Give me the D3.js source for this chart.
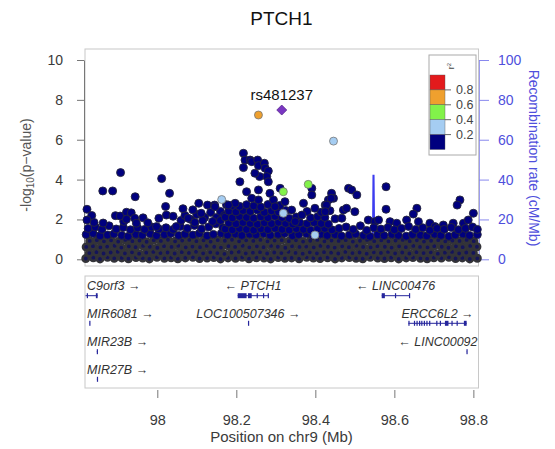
<!DOCTYPE html>
<html>
<head>
<meta charset="utf-8">
<script src="https://cdn.jsdelivr.net/npm/d3@7"></script>
<style>
  body { margin: 0; background: #fff; }
  svg { font-family: "Liberation Sans", Arial, sans-serif; }
</style>
</head>
<body>
<svg width="555" height="449"></svg>
<script>
// ---- data ----
let regionMb = [97.817, 98.813];
let pTicks = [0, 2, 4, 6, 8, 10];
let recombTicks = [0, 20, 40, 60, 80, 100];
let posTicks = [98, 98.2, 98.4, 98.6, 98.8];

// lead snp
let leadName = "rs481237";
let leadPos = 98.315;
let leadLogP = 7.49;

// snps with some ld to the lead (r2 given)
let ldPos  = [98.256, 98.446, 98.163, 98.319, 98.399, 98.319, 98.382];
let ldLogP = [7.24,   5.93,   3.0,    2.31,   1.22,   3.39,   3.76];
let ldR2   = [0.7,    0.3,    0.3,    0.3,    0.3,    0.5,    0.5];

// the dense low band of snps (r2 < 0.2)
let floorSnps = [
  [97.819,0.04],[97.838,0.08],[97.855,0.02],[97.874,0.1],[97.891,0.05],[97.91,0.07],[97.927,0.03],[97.946,0.09],[97.963,0.06],[97.98,0.02],[97.999,0.1],[98.018,0.05],[98.035,0.08],[98.052,0.03],[98.071,0.07],[98.09,0.1],[98.107,0.04],[98.126,0.06],[98.143,0.09],[98.16,0.02],[98.179,0.07],[98.198,0.05],[98.215,0.1],[98.232,0.03],[98.251,0.08],[98.27,0.06],[98.287,0.02],[98.306,0.09],[98.323,0.05],[98.34,0.07],[98.359,0.03],[98.378,0.1],[98.395,0.06],[98.412,0.04],[98.431,0.08],[98.45,0.02],[98.467,0.07],[98.486,0.09],[98.503,0.05],[98.52,0.03],[98.539,0.1],[98.558,0.06],[98.575,0.04],[98.592,0.08],[98.611,0.02],[98.63,0.07],[98.647,0.09],[98.666,0.05],[98.683,0.03],[98.7,0.08],[98.719,0.06],[98.738,0.1],[98.755,0.04],[98.772,0.07],[98.791,0.02],[98.81,0.05],
  [97.828,0.31],[97.846,0.36],[97.864,0.29],[97.882,0.34],[97.9,0.38],[97.918,0.3],[97.936,0.35],[97.954,0.28],[97.972,0.33],[97.99,0.37],[98.008,0.31],[98.026,0.34],[98.044,0.29],[98.062,0.36],[98.08,0.32],[98.098,0.38],[98.116,0.3],[98.134,0.35],[98.152,0.31],[98.17,0.27],[98.188,0.34],[98.206,0.37],[98.224,0.3],[98.242,0.33],[98.26,0.36],[98.278,0.29],[98.296,0.34],[98.314,0.31],[98.332,0.38],[98.35,0.32],[98.368,0.28],[98.386,0.35],[98.404,0.3],[98.422,0.36],[98.44,0.33],[98.458,0.29],[98.476,0.37],[98.494,0.31],[98.512,0.34],[98.53,0.28],[98.548,0.35],[98.566,0.32],[98.584,0.37],[98.602,0.3],[98.62,0.34],[98.638,0.29],[98.656,0.36],[98.674,0.31],[98.692,0.35],[98.71,0.28],[98.728,0.33],[98.746,0.37],[98.764,0.3],[98.782,0.34],[98.8,0.32],
  [97.82,0.62],[97.837,0.66],[97.856,0.6],[97.873,0.64],[97.892,0.68],[97.909,0.59],[97.928,0.65],[97.945,0.61],[97.964,0.67],[97.981,0.63],[98.0,0.58],[98.017,0.66],[98.036,0.62],[98.053,0.68],[98.072,0.6],[98.089,0.64],[98.108,0.61],[98.125,0.67],[98.144,0.63],[98.161,0.59],[98.18,0.66],[98.197,0.62],[98.216,0.68],[98.233,0.6],[98.252,0.65],[98.269,0.61],[98.288,0.67],[98.305,0.63],[98.324,0.58],[98.341,0.66],[98.36,0.62],[98.377,0.64],[98.396,0.6],[98.413,0.67],[98.432,0.63],[98.449,0.59],[98.468,0.65],[98.485,0.61],[98.504,0.68],[98.521,0.62],[98.54,0.6],[98.557,0.66],[98.576,0.63],[98.593,0.59],[98.612,0.65],[98.629,0.61],[98.648,0.67],[98.665,0.62],[98.684,0.6],[98.701,0.66],[98.72,0.63],[98.737,0.58],[98.756,0.65],[98.773,0.61],[98.792,0.67],[98.809,0.63],
  [97.829,0.92],[97.847,0.96],[97.865,0.9],[97.883,0.95],[97.901,0.89],[97.919,0.97],[97.937,0.91],[97.955,0.94],[97.973,0.88],[97.991,0.96],[98.009,0.92],[98.027,0.98],[98.045,0.9],[98.063,0.94],[98.081,0.97],[98.099,0.91],[98.117,0.95],[98.135,0.89],[98.153,0.96],[98.171,0.93],[98.189,0.98],[98.207,0.9],[98.225,0.95],[98.243,0.92],[98.261,0.97],[98.279,0.9],[98.297,0.94],[98.315,0.96],[98.333,0.91],[98.351,0.95],[98.369,0.89],[98.387,0.93],[98.405,0.97],[98.423,0.9],[98.441,0.94],[98.459,0.92],[98.477,0.96],[98.495,0.89],[98.513,0.93],[98.531,0.97],[98.549,0.91],[98.567,0.95],[98.585,0.9],[98.603,0.94],[98.621,0.97],[98.639,0.91],[98.657,0.95],[98.675,0.89],[98.693,0.93],[98.711,0.96],[98.729,0.9],[98.747,0.94],[98.765,0.92],[98.783,0.97],[98.801,0.91],
  [97.82,1.24],[97.838,1.3],[97.855,1.18],[97.874,1.22],[97.89,1.27],[97.91,1.2],[97.926,1.15],[97.946,1.25],[97.962,1.21],[97.982,1.28],[97.998,1.19],[98.018,1.24],[98.034,1.3],[98.054,1.2],[98.07,1.26],[98.09,1.22],[98.106,1.29],[98.126,1.18],[98.142,1.25],[98.162,1.3],[98.178,1.22],[98.198,1.27],[98.214,1.2],[98.234,1.26],[98.25,1.23],[98.27,1.29],[98.286,1.21],[98.306,1.25],[98.322,1.3],[98.342,1.19],[98.358,1.24],[98.378,1.28],[98.394,1.21],[98.414,1.26],[98.43,1.2],[98.45,1.24],[98.466,1.17],[98.486,1.22],[98.502,1.27],[98.522,1.2],[98.538,1.15],[98.558,1.23],[98.574,1.19],[98.594,1.25],[98.61,1.2],[98.63,1.16],[98.646,1.24],[98.666,1.21],[98.682,1.18],[98.702,1.26],[98.718,1.2],[98.738,1.15],[98.754,1.22],[98.774,1.27],[98.79,1.2],[98.81,1.24]
];

// scattered snps above the band (r2 < 0.2)
let upperSnps = [
  [97.825,1.55],[97.843,1.62],[97.86,1.5],[97.878,1.68],[97.896,1.52],[97.914,1.6],[97.932,1.48],[97.95,1.58],[97.968,1.5],[97.986,1.62],[98.004,1.52],[98.022,1.58],[98.04,1.5],[98.058,1.65],[98.076,1.55],[98.094,1.7],[98.112,1.52],[98.13,1.62],[98.148,1.78],[98.166,1.58],
  [97.84,1.85],[97.915,1.9],[98.06,1.95],[98.07,2.2],[98.085,2.0],[98.1,2.25],[98.12,2.1],[98.135,2.35],[98.15,2.1],[98.16,2.4],[98.17,2.2],[98.095,1.85],[98.115,1.95],[98.14,1.9],[98.16,1.95],
  [97.907,4.35],[97.862,3.43],[97.887,3.43],[97.944,3.14],[98.011,4.05],[98.031,3.31],[98.021,2.65],[97.822,2.51],[97.834,2.2],[97.822,1.97],[97.863,1.82],[97.894,2.19],[97.906,2.17],[97.922,2.36],[97.934,2.33],[97.943,2.06],[97.964,2.08],[97.922,2.01],[97.947,1.81],[97.976,1.83],[98.004,2.06],[98.023,2.22],[98.04,2.16],[98.065,2.54],[98.09,2.48],[98.105,2.81],[98.127,2.72],[98.145,2.72],[98.175,2.74],[98.078,2.06],[98.111,2.31],[97.998,1.64],[98.048,1.64],
  [98.172,1.52],[98.19,1.48],[98.208,1.55],[98.226,1.5],[98.244,1.46],[98.262,1.53],[98.28,1.49],[98.298,1.56],[98.316,1.5],[98.334,1.47],[98.352,1.54],[98.37,1.5],[98.388,1.46],[98.406,1.52],[98.424,1.55],[98.442,1.48],
  [98.181,1.82],[98.199,1.78],[98.217,1.85],[98.235,1.8],[98.253,1.76],[98.271,1.84],[98.289,1.79],[98.307,1.86],[98.325,1.8],[98.343,1.77],[98.361,1.83],[98.379,1.79],[98.397,1.85],[98.415,1.8],[98.433,1.76],
  [98.172,2.12],[98.19,2.08],[98.208,2.15],[98.226,2.1],[98.244,2.06],[98.262,2.13],[98.28,2.09],[98.298,2.16],[98.316,2.1],[98.334,2.05],[98.352,2.12],[98.388,2.08],[98.406,2.14],[98.424,2.1],[98.45,2.03],
  [98.181,2.42],[98.199,2.38],[98.217,2.45],[98.235,2.4],[98.253,2.47],[98.271,2.36],[98.289,2.43],[98.307,2.38],[98.325,2.45],[98.379,2.4],[98.415,2.36],[98.437,2.44],
  [98.19,2.7],[98.208,2.66],[98.226,2.74],[98.244,2.68],[98.262,2.62],[98.28,2.75],[98.31,2.7],
  [98.218,5.32],[98.222,4.98],[98.235,4.98],[98.239,4.9],[98.254,4.98],[98.256,4.7],[98.271,4.82],[98.273,4.57],[98.281,4.43],[98.277,4.15],[98.281,3.89],[98.218,4.6],[98.209,3.89],[98.226,3.39],[98.256,3.48],[98.285,3.31],[98.311,3.56],[98.391,3.56],[98.391,3.23],[98.37,2.81],[98.399,2.56],[98.441,3.31],[98.433,2.98],[98.239,3.06],[98.256,2.98],[98.197,2.81],[98.18,2.72],[98.146,2.64],[98.294,2.98],[98.298,2.64],[98.323,2.89],[98.34,2.47],[98.349,1.89],[98.366,2.22],[98.425,2.72],[98.446,3.06],[98.259,4.15],[98.247,4.32],
  [98.484,3.56],[98.492,3.48],[98.505,3.23],[98.471,2.47],[98.479,2.56],[98.5,2.39],[98.467,2.06],[98.579,3.64],[98.579,2.51],[98.534,1.97],[98.551,1.89],[98.56,1.97],[98.589,1.89],[98.606,1.81],[98.631,1.97],[98.657,2.56],[98.648,2.27],[98.661,1.89],[98.69,1.81],[98.703,1.64],[98.724,1.72],[98.749,1.81],[98.766,2.98],[98.759,2.72],[98.775,1.81],[98.8,2.31],[98.787,1.97],[98.44,3.06],[98.428,2.72],[98.425,2.39],
  [98.46,1.55],[98.478,1.62],[98.496,1.5],[98.514,1.68],[98.53,1.45],[98.548,1.58],[98.566,1.52],[98.584,1.6],[98.6,1.48],[98.618,1.55],[98.636,1.65],[98.654,1.5],[98.672,1.58],[98.69,1.45],[98.708,1.55],[98.726,1.5],[98.744,1.6],[98.762,1.48],[98.78,1.55],[98.798,1.62],[98.81,1.5]
];

// recombination rate (cM/Mb)
let recombPos  = [97.817, 97.86, 97.9, 97.95, 98.0, 98.05, 98.1, 98.15, 98.2, 98.25, 98.3, 98.35, 98.4, 98.45, 98.5, 98.545, 98.5465, 98.548, 98.55, 98.6, 98.65, 98.7, 98.75, 98.813];
let recombRate = [2, 1.5, 3, 1, 2, 0.5, 1, 2, 0.5, 1, 0.8, 2, 1.5, 3, 1, 2, 42, 42, 3, 1, 2, 1, 3, 1];

// genes
let geneNames  = ["C9orf3", "MIR6081", "MIR23B", "MIR27B", "PTCH1", "LOC100507346", "LINC00476", "ERCC6L2", "LINC00092"];
let geneStart  = [97.489, 97.8278, 97.8468, 97.8471, 98.2035, 98.2295, 98.568, 98.6355, 98.7825];
let geneEnd    = [97.849, 97.8283, 97.8473, 97.8476, 98.281, 98.2315, 98.638, 98.783, 98.7831];
let geneStrand = ["+", "+", "+", "+", "-", "+", "-", "+", "-"];
let geneRow    = [0, 1, 2, 3, 0, 1, 0, 1, 2];
let geneExons  = [
  [[97.8215, 97.8235], [97.8445, 97.849]],
  [[97.8278, 97.8283]],
  [[97.8468, 97.8473]],
  [[97.8471, 97.8476]],
  [[98.2035, 98.226], [98.2295, 98.239], [98.2515, 98.253], [98.2675, 98.2685], [98.2795, 98.281]],
  [[98.2295, 98.2315]],
  [[98.568, 98.576], [98.6015, 98.6025], [98.637, 98.638]],
  [[98.6355, 98.6365], [98.6495, 98.6505], [98.656, 98.6575], [98.6625, 98.664], [98.668, 98.6695], [98.6745, 98.6755], [98.681, 98.6825], [98.688, 98.6895], [98.706, 98.7075], [98.715, 98.7165], [98.728, 98.737], [98.7445, 98.746], [98.7575, 98.759], [98.776, 98.783]],
  [[98.7825, 98.7831]]
];

// r2 legend
let r2Breaks = [0.8, 0.6, 0.4, 0.2];
let r2Colors = ["#e31a1c", "#efa02e", "#82f24a", "#a5cdf2", "#00007f"];

// ---- drawing ----
let svg = d3.select("svg");
let textCol = "#3a3a3a";
let recombCol = "#4f4fdc";

let x = d3.scaleLinear().domain(regionMb).range([85, 478.5]);
let y = d3.scaleLinear().domain([0, 10]).range([259.3, 60]);
let yRecomb = d3.scaleLinear().domain([0, 100]).range([259.3, 60]);

let r2Color = function(r) {
  if (r >= 0.8) return r2Colors[0];
  if (r >= 0.6) return r2Colors[1];
  if (r >= 0.4) return r2Colors[2];
  if (r >= 0.2) return r2Colors[3];
  return r2Colors[4];
};

// title
svg.append("text")
  .attr("x", 281.5).attr("y", 25)
  .attr("text-anchor", "middle")
  .style("font-size", "19px").style("fill", "#111")
  .text("PTCH1");

// plot boxes
svg.append("rect").attr("x", 85).attr("y", 49).attr("width", 393.5).attr("height", 217)
  .style("fill", "none").style("stroke", "#c8c8c8");
svg.append("rect").attr("x", 85).attr("y", 276).attr("width", 393.5).attr("height", 112)
  .style("fill", "none").style("stroke", "#c8c8c8");

// left axis
let yAxis = d3.axisLeft(y).tickValues(pTicks).tickSize(7).tickSizeOuter(0).tickPadding(14);
let yg = svg.append("g").attr("transform", "translate(84,0)").call(yAxis);
yg.select(".domain").style("stroke", "#777");
yg.selectAll(".tick line").style("stroke", "#777");
yg.selectAll("text").style("font-size", "14px").style("fill", textCol).style("font-family", "inherit");

svg.append("text")
  .attr("transform", "translate(31,165) rotate(-90)")
  .attr("text-anchor", "middle")
  .style("font-size", "14px").style("fill", "#555")
  .call(function(t) {
    t.append("tspan").text("-log");
    t.append("tspan").attr("dy", 3).style("font-size", "10px").text("10");
    t.append("tspan").attr("dy", -3).text("(p\u2212value)");
  });

// right axis
let rAxis = d3.axisRight(yRecomb).tickValues(recombTicks).tickSize(10).tickSizeOuter(0).tickPadding(9);
let rg = svg.append("g").attr("transform", "translate(479,0)").call(rAxis);
rg.select(".domain").style("stroke", "#9c9cf0");
rg.selectAll(".tick line").style("stroke", "#8888ee");
rg.selectAll("text").style("font-size", "14px").style("fill", recombCol).style("font-family", "inherit");

svg.append("text")
  .attr("transform", "translate(529,158) rotate(90)")
  .attr("text-anchor", "middle")
  .style("font-size", "14px").style("fill", recombCol)
  .text("Recombination rate (cM/Mb)");

// recombination line (behind the points)
let recombLine = d3.line()
  .x(function(d, i) { return x(recombPos[i]); })
  .y(function(d) { return yRecomb(d); });
svg.append("path")
  .datum(recombRate)
  .attr("d", recombLine)
  .style("fill", "none").style("stroke", "#3c3cf0").style("stroke-width", 1.5);

// points
let plot = svg.append("g").attr("id", "plot");

// the packed band reads as dark grey in the reference (outlines pile up)
plot.selectAll("circle.floor")
  .data(floorSnps)
  .enter().append("circle")
  .attr("class", "floor")
  .attr("cx", function(d) { return x(d[0]); })
  .attr("cy", function(d) { return y(d[1]); })
  .attr("r", function(d) { return d[1] < 1.1 ? 3.2 : 4; })
  .style("fill", function(d) { return d[1] < 1.1 ? "#14145a" : r2Colors[4]; })
  .style("stroke", function(d) { return d[1] < 1.1 ? "#333338" : "#26263c"; })
  .style("stroke-width", function(d) { return d[1] < 1.1 ? 2.6 : 0.9; });

plot.selectAll("circle.upper")
  .data(upperSnps)
  .enter().append("circle")
  .attr("class", "upper")
  .attr("cx", function(d) { return x(d[0]); })
  .attr("cy", function(d) { return y(d[1]); })
  .attr("r", 4)
  .style("fill", r2Colors[4])
  .style("stroke", "#26263c")
  .style("stroke-width", 0.9);

// ld snps, lowest r2 first so the strong ones sit on top
let ldIdx = d3.range(ldPos.length).sort(function(a, b) { return ldR2[a] - ldR2[b]; });
plot.selectAll("circle.ld")
  .data(ldIdx)
  .enter().append("circle")
  .attr("class", "ld")
  .attr("cx", function(i) { return x(ldPos[i]); })
  .attr("cy", function(i) { return y(ldLogP[i]); })
  .attr("r", 4)
  .style("fill", function(i) { return r2Color(ldR2[i]); })
  .style("stroke", "#777")
  .style("stroke-width", 0.8);

// lead snp: purple diamond
let lx = x(leadPos), ly = y(leadLogP);
plot.append("path")
  .attr("d", "M" + lx + "," + (ly - 5) + "L" + (lx + 5) + "," + ly + "L" + lx + "," + (ly + 5) + "L" + (lx - 5) + "," + ly + "Z")
  .style("fill", "#7a36c2")
  .style("stroke", "#5a2a90")
  .style("stroke-width", 0.8);
svg.append("text")
  .attr("x", lx).attr("y", ly - 10)
  .attr("text-anchor", "middle")
  .style("font-size", "15px").style("fill", "#111")
  .text(leadName);

// r2 legend
let legend = svg.append("g");
legend.append("rect").attr("x", 429).attr("y", 55).attr("width", 47).attr("height", 100)
  .style("fill", "#fff").style("stroke", "#aaa");
let legY = d3.scaleLinear().domain([1, 0]).range([75, 149.5]);
let r2Tops = [1].concat(r2Breaks);
let r2Bots = r2Breaks.concat([0]);
legend.selectAll("rect.key")
  .data(r2Colors)
  .enter().append("rect")
  .attr("class", "key")
  .attr("x", 430)
  .attr("width", 15)
  .attr("y", function(d, i) { return legY(r2Tops[i]); })
  .attr("height", function(d, i) { return legY(r2Bots[i]) - legY(r2Tops[i]); })
  .style("fill", function(d) { return d; })
  .style("stroke", "#555").style("stroke-width", 0.4);
legend.selectAll("line.tick")
  .data(r2Breaks)
  .enter().append("line")
  .attr("x1", 445).attr("x2", 451)
  .attr("y1", function(d) { return legY(d); })
  .attr("y2", function(d) { return legY(d); })
  .style("stroke", "#666");
legend.selectAll("text.lab")
  .data(r2Breaks)
  .enter().append("text")
  .attr("x", 456)
  .attr("y", function(d) { return legY(d) + 4.5; })
  .style("font-size", "12.5px").style("fill", "#444")
  .text(function(d) { return d.toFixed(1); });
legend.append("text")
  .attr("transform", "translate(454,66) rotate(-90)")
  .attr("text-anchor", "middle")
  .style("font-size", "9px").style("fill", "#444")
  .call(function(t) {
    t.append("tspan").text("r");
    t.append("tspan").attr("dy", -3).style("font-size", "6px").text("2");
  });

// genes
let rowBody = [295.7, 323.3, 351.7, 379.3];
let genes = svg.append("g").attr("id", "genes");
let clipGenes = svg.append("clipPath").attr("id", "geneclip");
clipGenes.append("rect").attr("x", 85.5).attr("y", 276).attr("width", 392.5).attr("height", 112);
let geneMarks = genes.append("g").attr("clip-path", "url(#geneclip)");

geneNames.forEach(function(name, i) {
  let gy = rowBody[geneRow[i]];
  let x0 = x(geneStart[i]), x1 = x(geneEnd[i]);
  geneMarks.append("line")
    .attr("x1", x0).attr("x2", x1).attr("y1", gy).attr("y2", gy)
    .style("stroke", "#25259c").style("stroke-width", 1);
  geneMarks.selectAll("rect.ex" + i)
    .data(geneExons[i])
    .enter().append("rect")
    .attr("x", function(d) { return x(d[0]); })
    .attr("width", function(d) { return Math.max(1.2, x(d[1]) - x(d[0])); })
    .attr("y", gy - 2.5).attr("height", 5)
    .style("fill", "#25259c");

  let label = geneStrand[i] === "+" ? name + " \u2192" : "\u2190 " + name;
  let t = genes.append("text")
    .attr("y", gy - 5.5)
    .style("font-size", "12.5px").style("font-style", "italic").style("fill", "#333")
    .text(label);
  let w = t.node().getComputedTextLength();
  let cx = (Math.max(x0, x(regionMb[0])) + Math.min(x1, x(regionMb[1]))) / 2;
  let left = Math.min(Math.max(cx - w / 2, 87), 477.5 - w);
  t.attr("x", left);
});

// bottom axis
let xAxis = d3.axisBottom(x).tickValues(posTicks).tickSize(8).tickPadding(17).tickFormat(d3.format(""));
let xg = svg.append("g").attr("transform", "translate(0,390)").call(xAxis);
xg.select(".domain").remove();
xg.selectAll(".tick line").style("stroke", "#777");
xg.selectAll("text").style("font-size", "14.5px").style("fill", textCol).style("font-family", "inherit");

svg.append("text")
  .attr("x", 281.5).attr("y", 442)
  .attr("text-anchor", "middle")
  .style("font-size", "15px").style("fill", textCol)
  .text("Position on chr9 (Mb)");
</script>
</body>
</html>
